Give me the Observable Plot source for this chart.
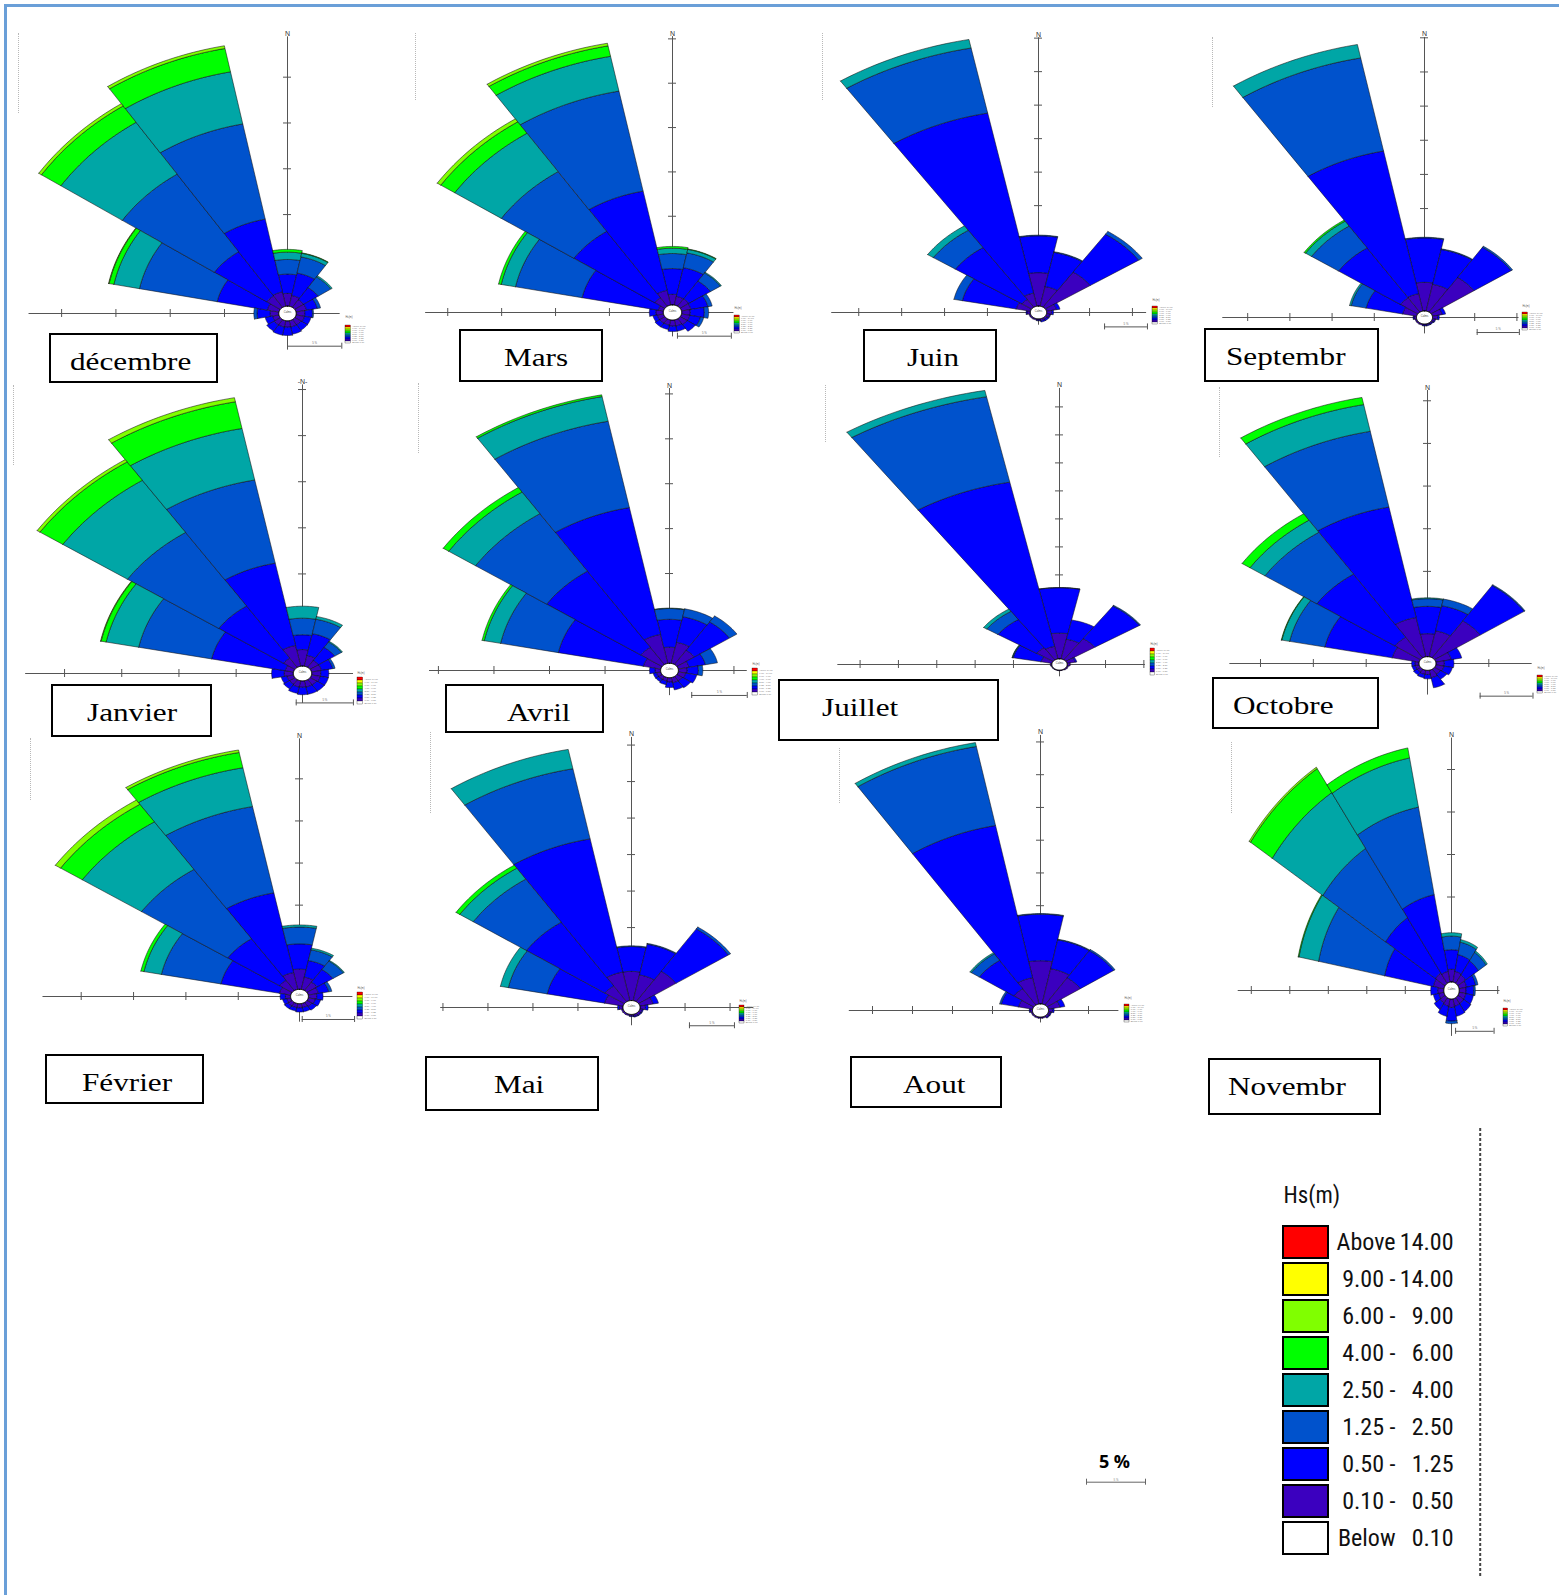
<!DOCTYPE html>
<html><head><meta charset="utf-8">
<script src="https://cdn.jsdelivr.net/npm/d3@7"></script>
<script src="https://cdn.jsdelivr.net/npm/@observablehq/plot@0.6"></script>
<style>
html,body{margin:0;padding:0;background:#fff;overflow:hidden;}
#page{position:relative;width:1559px;height:1595px;overflow:hidden;background:#fff;}
.label{position:absolute;box-sizing:border-box;border:2px solid #000;background:#fff;}
.label span{position:absolute;top:14px;white-space:nowrap;font-family:"Liberation Serif","Times New Roman",serif;font-size:26px;line-height:26px;color:#000;transform:scaleX(1.2);transform-origin:left center;}
.faint{position:absolute;width:0;border-left:1px dotted #b8b8b8;}
</style></head><body><div id="page"></div>
<script>
// ---------- DATA ----------
const directions = ["N","NNE","NE","ENE","E","ESE","SE","SSE","S","SSW","SW","WSW","W","WNW","NW","NNW"];
const hsClasses = ["Above 14.00","9.00 - 14.00","6.00 - 9.00","4.00 - 6.00","2.50 - 4.00","1.25 - 2.50","0.50 - 1.25","0.10 - 0.50","Below 0.10"];
const hsColors  = ["#ff0000","#ffff00","#80ff00","#00ff00","#00a6a6","#0052cc","#0000ff","#3b00bf","#ffffff"];
// classes stacked in each sector, from the centre outward
const stackClasses = ["0.10 - 0.50","0.50 - 1.25","1.25 - 2.50","2.50 - 4.00","4.00 - 6.00","6.00 - 9.00"];
const months = ["décembre","Mars","Juin","Septembr","Janvier","Avril","Juillet","Octobre","Février","Mai","Aout","Novembr"];
const scaleLabel = "5 %";

// frequency (%) per direction (rows N..NNW) and Hs class (columns = stackClasses)
const decembre = [[1.4,2.1,1.6,0.8,0.3],[1.2,2.5,1.8,0.4,0.05],[1.0,1.6,1.4,0.15],[1.0,1.0,0.3],[0.8,0.7,0.1],[0.8,0.6],[0.7,0.7],[0.7,0.8],[0.7,0.9],[0.7,0.9],[0.7,0.8],[0.6,0.7],[0.8,1.2,0.3],[1.1,4.7,7.3,2.4,0.45,0.05],[1.5,5.8,10.2,6.8,2.15,0.3],[1.6,8.1,10.6,5.8,2.6,0.3]];
const mars = [[1.2,2.9,1.7,0.6,0.2],[1.0,3.3,1.7,0.4,0.05],[1.0,2.4,1.1,0.1],[0.9,1.6,0.4],[0.8,1.3,0.4],[0.8,1.0,0.3],[0.8,0.9],[0.7,0.6],[0.7,0.6],[0.6,0.5],[0.6,0.5],[0.6,0.4],[0.7,0.6],[0.5,7.2,6.3,1.35,0.25],[1.15,9.0,8.1,5.2,1.55,0.4],[1.7,11.4,11.5,4.0,1.2,0.3]];
const juin = [[5.0,5.5,0.1],[3.0,5.2,0.1],[6.3,6.8,0.5],[1.2,0.4],[0.6,0.2],[0.4,0.1],[0.3,0.2],[0.3,0.2],[0.2,0.1],[0.2],[0.2],[0.2],[0.4,0.1],[1.7,6.4,1.0],[1.4,9.3,3.1,0.8],[2.0,27.4,9.9,1.3]];
const septembre = [[4.2,6.5,0.1],[4.0,5.2,0.1],[6.1,5.3,0.2],[1.2,0.4],[0.6,0.2],[0.3,0.1],[0.2,0.1],[0.2,0.1],[0.2,0.1],[0.2],[0.2],[0.2],[0.3,0.1],[1.7,4.4,1.8,0.2],[2.5,8.8,3.85,0.85,0.2],[2.6,21.3,13.9,2.0]];
const janvier = [[1.8,1.6,1.8,1.3],[1.2,2.4,1.6,0.3],[0.9,1.7,0.7,0.1],[0.9,1.0,0.2],[0.8,0.7],[0.8,0.7],[0.7,0.8],[0.7,0.8],[0.7,0.8],[0.7,0.7],[0.6,0.6],[0.6,0.5],[0.8,1.1],[0.75,6.55,6.5,2.9,0.45,0.05],[1.2,6.8,9.6,6.8,2.4,0.3],[2.3,9.1,9.2,5.7,2.95,0.45]];
const avril = [[1.8,3.1,1.2,0.05],[2.4,2.9,0.9],[1.9,3.8,0.8],[1.0,1.5,1.1],[0.8,1.0,0.4],[0.7,1.0],[0.6,0.9],[0.6,0.8],[0.5,0.6],[0.4,0.4],[0.4,0.3],[0.4,0.3],[0.5,0.5],[1.6,7.8,5.3,1.5,0.2],[2.3,10.2,7.7,2.9,0.6],[3.3,14.4,9.8,2.8,0.2]];
const juillet = [[4.6,8.1,0.05],[3.6,3.5],[4.55,7.0,0.15],[1.1,0.2],[0.4],[0.2],[0.2],[0.1],[0.1],[0.1],[0.1],[0.1],[0.2],[1.45,3.7,0.1,0.05],[2.6,6.06,1.74,0.5],[2.3,29.9,15.55,1.15]];
const octobre = [[2.7,3.2,0.9,0.1],[3.1,3.0,0.8],[5.2,5.0,0.1],[1.5,1.0],[0.8,0.9],[0.8,0.8],[0.7,0.7],[0.9,1.2],[0.5,0.5],[0.5,0.4],[0.4,0.4],[0.4,0.3],[0.4,0.3],[2.6,6.5,3.4,0.75,0.05],[2.9,8.9,5.9,1.7,0.9],[4.7,13.2,9.05,3.2,0.85]];
const fevrier = [[2.4,3.0,2.0,0.25],[1.5,2.0,1.3,0.2],[1.2,1.8,1.2,0.1],[1.0,1.0,0.3],[0.8,0.6],[0.7,0.5],[0.6,0.5],[0.5,0.5],[0.5,0.5],[0.5,0.4],[0.5,0.4],[0.4,0.4],[0.5,0.5],[1.1,5.7,5.8,1.7,0.3],[1.46,5.94,9.9,6.8,2.5,0.6],[2.05,9.65,10.45,4.7,1.85,0.3]];
const mai = [[4.0,3.4,0.1],[3.6,4.3,0.1],[5.0,7.0,0.3],[1.5,0.6],[0.6,0.3],[0.3,0.1],[0.3,0.1],[0.3,0.1],[0.2,0.1],[0.2],[0.2],[0.2],[0.4,0.2],[2.1,6.5,4.4,0.9],[2.6,10.5,7.1,1.8,0.5],[4.0,18.6,9.8,2.7]];
const aout = [[6.6,7.1,0.1],[5.5,4.5,0.1],[5.0,5.0,0.2],[1.5,0.6],[0.5,0.2],[0.3,0.1],[0.3,0.1],[0.2],[0.2],[0.2],[0.2],[0.2],[0.3,0.1],[1.8,2.2,0.2],[3.0,5.2,1.2,0.2],[4.1,23.7,12.3,0.6]];
const novembre = [[1.5,2.3,1.6,0.4],[1.3,2.0,1.5,0.3],[1.2,2.0,1.2,0.2],[1.0,1.2,0.3],[0.9,1.0,0.2],[0.9,1.0],[0.9,1.1],[0.9,1.2],[1.0,1.6,0.3],[0.9,1.2],[0.8,0.9],[0.7,0.7],[0.8,0.9],[1.4,6.45,8.75,2.6,0.1],[1.5,7.8,9.8,7.9,3.4,0.2],[1.3,9.2,10.5,5.9,1.2]];

const monthData = [decembre, mars, juin, septembre, janvier, avril, juillet, octobre, fevrier, mai, aout, novembre];

// ---------- LAYOUT (page px; a,b = px per % horizontally / vertically) ----------
const layout = [
 {cx:287.3, cy:313.3, a:10.86,b:9.16, r0:0.8, ext:[23.8,4.85,30.2,4.0], bar:[0,-3.57],   leg:[345,316,27,31], box:[49,333,169,50],  tx:70,   faint:[18,33,113],   n:"N"},
 {cx:671.7, cy:312.3, a:10.78,b:8.87, r0:0.85,ext:[22.9,5.7,31.1,2.75], bar:[0.46,-2.67], leg:[734,307,26,29], box:[459,329,144,53], tx:504,  faint:[415,33,100],  n:"N"},
 {cx:1038.3,cy:312.3, a:8.58, b:6.7,  r0:0.95,ext:[24.1,12.6,41.0,1.9], bar:[7.7,-2.15],  leg:[1152,299,27,28],box:[863,329,134,53], tx:907,  faint:[822,33,100],  n:"N"},
 {cx:1424,  cy:316.7, a:8.44, b:6.83, r0:0.95,ext:[23.9,11.2,41.0,2.4], bar:[6.24,-2.2],  leg:[1522,305,27,28],box:[1204,328,175,54],tx:1226, faint:[1212,37,107], n:"N"},
 {cx:302.3, cy:673.3, a:11.44,b:9.22, r0:0.8, ext:[24.2,4.46,31.3,3.25],bar:[-0.55,-3.19],leg:[357,672,28,32], box:[51,684,161,53],  tx:87,   faint:[13,385,465],  n:"-N-"},
 {cx:669.3, cy:670,   a:11.11,b:8.98, r0:0.8, ext:[21.6,7.0,31.4,2.8],  bar:[2.0,-2.78],  leg:[752,663,27,32], box:[445,684,159,49], tx:507,  faint:[418,383,453], n:"N"},
 {cx:1059.3,cy:664.3, a:7.67, b:5.6,  r0:1.0, ext:[28.9,11.2,49.3,2.2], bar:null,        leg:[1150,643,22,32],box:[778,679,221,62], tx:822,  faint:[825,385,442], n:"N"},
 {cx:1426.7,cy:663.3, a:10.57,b:8.53, r0:0.8, ext:[18.7,9.9,32.0,3.7],  bar:[4.98,-3.83], leg:[1537,667,27,30],box:[1212,677,167,52],tx:1233, faint:[1219,387,457],n:"N"},
 {cx:299,   cy:996,   a:10.47,b:8.42, r0:0.85,ext:[24.5,5.1,30.6,3.05], bar:[0.26,-2.73], leg:[357,987,28,33], box:[45,1054,159,50], tx:82,   faint:[30,738,800],  n:"N"},
 {cx:630.5, cy:1006.8,a:9.0,  b:7.3,  r0:0.95,ext:[21.2,13.6,37,2.5],   bar:[6.44,-2.5],  leg:[739,1000,25,25],box:[425,1056,174,55],tx:494,  faint:[430,732,813], n:"N"},
 {cx:1040.3,cy:1009.8,a:8.0,  b:6.55, r0:1.0, ext:[23.9,9.8,42,1.9],    bar:null,        leg:[1124,997,25,27],box:[850,1056,152,52],tx:903,  faint:[839,748,803], n:"N"},
 {cx:1451.2,cy:989.5, a:7.7,  b:8.5,  r0:1.0, ext:[27.7,6.3,29.7,5.4],  bar:[0.53,-4.8],  leg:[1503,1000,23,30],box:[1208,1058,173,57],tx:1228, faint:[1231,742,813], n:"N"}
];

const page = document.getElementById("page");
const colorOf = cls => hsColors[hsClasses.indexOf(cls)];
const legRows = hsClasses.map((c, i) => {
  const parts = c.split(" - ");
  return {cls: c, color: hsColors[i],
    lhs: parts.length === 2 ? parts[0] + " -" : c.split(" ")[0],
    rhs: parts.length === 2 ? parts[1] : c.split(" ")[1]};
});

function place(el, x, y) { el.style.position = "absolute"; el.style.left = x + "px"; el.style.top = y + "px"; page.appendChild(el); }

function sectorPolys(rows, r0) {
  const out = [];
  const rad = d => d * Math.PI / 180;
  rows.forEach((vals, i) => {
    const c = i * 360 / directions.length, half = 180 / directions.length;
    const a0 = c - half, a1 = c + half, N = 24;
    let rIn = r0;
    vals.forEach((v, k) => {
      if (!(v > 0)) return;
      const rOut = rIn + v, id = directions[i] + "-" + k;
      const pts = [];
      for (let t = 0; t <= N; t++) { const th = rad(a0 + (a1 - a0) * t / N); pts.push([rOut * Math.sin(th), rOut * Math.cos(th)]); }
      for (let t = N; t >= 0; t--) { const th = rad(a0 + (a1 - a0) * t / N); pts.push([rIn * Math.sin(th), rIn * Math.cos(th)]); }
      pts.push(pts[0]);
      pts.forEach(p => out.push({x: p[0], y: p[1], id, cls: stackClasses[k]}));
      rIn = rOut;
    });
  });
  return out;
}
function ring(r) {
  return d3.range(0, 361, 5).map(d => ({x: r * Math.sin(d * Math.PI / 180), y: r * Math.cos(d * Math.PI / 180)}));
}

function rosePanel(rows, L) {
  const W = 430, H = 360, left = 300, top = 305;
  const [eL, eR, eT, eB] = L.ext;
  const polys = sectorPolys(rows, L.r0);
  const step = 5;
  const hTicks = [], vTicks = [];
  for (let r = L.r0 + step; r <= eL + 0.01; r += step) hTicks.push(-r);
  for (let r = L.r0 + step; r <= eR + 0.01; r += step) hTicks.push(r);
  for (let r = L.r0 + step; r <= eT + 0.01; r += step) vTicks.push(r);
  for (let r = L.r0 + step; r <= eB + 0.01; r += step) vTicks.push(-r);
  const tx = 4 / L.a, ty = 4 / L.b;
  const marks = [
    Plot.ruleY([0], {x1: -eL, x2: eR, stroke: "#555", strokeWidth: 1}),
    Plot.ruleX([0], {y1: -eB, y2: eT, stroke: "#555", strokeWidth: 1}),
    Plot.ruleX(hTicks, {x: d => d, y1: -ty, y2: ty, stroke: "#555", strokeWidth: 1}),
    Plot.ruleY(vTicks, {y: d => d, x1: -tx, x2: tx, stroke: "#555", strokeWidth: 1}),
    ...stackClasses.map(cls => Plot.line(polys.filter(d => d.cls === cls),
        {x: "x", y: "y", z: "id", fill: colorOf(cls), stroke: "#111", strokeWidth: 0.55, strokeLinejoin: "round"})),
    Plot.line(ring(L.r0), {x: "x", y: "y", fill: "#fff", stroke: "#000", strokeWidth: 1}),
    Plot.text(["Calms"], {x: 0, y: 0, dy: -1.5, fontSize: 2.6, fill: "#444"}),
    Plot.text([L.n], {x: 0, y: eT, dy: -1, lineAnchor: "bottom", fontSize: 7, fill: "#333"})
  ];
  if (L.bar) {
    const [x0, yb] = L.bar;
    marks.push(
      Plot.ruleY([yb], {x1: x0, x2: x0 + step, stroke: "#555", strokeWidth: 1}),
      Plot.ruleX([x0, x0 + step], {x: d => d, y1: yb - 3 / L.b, y2: yb + 3 / L.b, stroke: "#555"}),
      Plot.text([scaleLabel], {x: x0 + step / 2, y: yb, dy: -3, fontSize: 2.8, fill: "#666"})
    );
  }
  const svg = Plot.plot({
    width: W, height: H, margin: 0,
    x: {domain: [-left / L.a, (W - left) / L.a], range: [0, W], axis: null},
    y: {domain: [-(H - top) / L.b, top / L.b], range: [H, 0], axis: null},
    style: {background: "transparent", overflow: "visible", fontFamily: "Liberation Sans, Arial, sans-serif"},
    marks
  });
  place(svg, L.cx - left, L.cy - top);
}

function miniLegend(lg) {
  const [x, y, w, h] = lg;
  const svg = Plot.plot({
    width: w, height: h, margin: 0,
    x: {domain: [0, 1], range: [0, w], axis: null},
    y: {type: "band", domain: hsClasses, range: [h * 0.14, h], padding: 0.12, axis: null},
    color: {type: "identity"},
    style: {background: "transparent", overflow: "visible", fontFamily: "Liberation Sans, Arial, sans-serif"},
    marks: [
      Plot.text(["Hs(m)"], {frameAnchor: "top-left", lineAnchor: "top", fontSize: 2.6, fill: "#555"}),
      Plot.barX(legRows, {x1: 0, x2: 0.2, y: "cls", fill: "color", stroke: "#000", strokeWidth: 0.3}),
      Plot.text(legRows, {x: 0.25, y: "cls", text: "cls", textAnchor: "start", fontSize: 2.4, fill: "#777"})
    ]
  });
  place(svg, x, y);
}

// frame lines
const topLine = document.createElement("div");
topLine.style.cssText = "position:absolute;left:4px;top:4px;width:1560px;height:2.5px;background:#6a9fd8;";
page.appendChild(topLine);
const leftLine = document.createElement("div");
leftLine.style.cssText = "position:absolute;left:4px;top:4px;width:2.5px;height:1600px;background:#6a9fd8;";
page.appendChild(leftLine);

layout.forEach((L, i) => {
  const f = document.createElement("div");
  f.className = "faint";
  f.style.left = L.faint[0] + "px"; f.style.top = L.faint[1] + "px"; f.style.height = (L.faint[2] - L.faint[1]) + "px";
  page.appendChild(f);
  rosePanel(monthData[i], L);
  miniLegend(L.leg);
});
layout.forEach((L, i) => {
  const [bx, by, bw, bh] = L.box;
  const d = document.createElement("div");
  d.className = "label";
  d.style.left = bx + "px"; d.style.top = by + "px"; d.style.width = bw + "px"; d.style.height = bh + "px";
  const s = document.createElement("span");
  s.textContent = months[i];
  s.style.left = (L.tx - bx - 2) + "px";
  d.appendChild(s);
  page.appendChild(d);
});

// big legend
const narrow = "Liberation Sans Narrow, Arial Narrow, Roboto Condensed, Liberation Sans, sans-serif";
const bigLegend = Plot.plot({
  width: 240, height: 450, margin: 0,
  x: {domain: [0, 240], range: [0, 240], axis: null},
  y: {type: "band", domain: hsClasses, range: [97, 427], paddingInner: 0.13, paddingOuter: 0, axis: null},
  color: {type: "identity"},
  style: {background: "transparent", overflow: "visible", fontFamily: narrow},
  marks: [
    Plot.ruleX([229.7], {stroke: "#444", strokeWidth: 2, strokeDasharray: "3,2"}),
    Plot.text(["Hs(m)"], {frameAnchor: "top-left", dx: 33, dy: 58, lineAnchor: "top", textAnchor: "start", fontSize: 23, fill: "#111"}),
    Plot.barX(legRows, {x1: 33, x2: 78, y: "cls", fill: "color", stroke: "#000", strokeWidth: 2}),
    Plot.text(legRows, {x: 145, y: "cls", text: "lhs", textAnchor: "end", fontSize: 24, fill: "#111"}),
    Plot.text(legRows, {x: 203, y: "cls", text: "rhs", textAnchor: "end", fontSize: 24, fill: "#111"})
  ]
});
place(bigLegend, 1250, 1128);

// standalone scale indicator
const scaleBox = Plot.plot({
  width: 100, height: 80, margin: 0,
  x: {domain: [0, 100], range: [0, 100], axis: null},
  y: {domain: [0, 80], range: [0, 80], axis: null},
  style: {background: "transparent", overflow: "visible", fontFamily: "Open Sans, Liberation Sans, sans-serif"},
  marks: [
    Plot.text([scaleLabel], {x: 54, y: 47, lineAnchor: "bottom", fontSize: 18, fontWeight: "bold", fill: "#000"}),
    Plot.ruleY([61.7], {x1: 26, x2: 85, stroke: "#666", strokeWidth: 1}),
    Plot.ruleX([26, 85], {x: d => d, y1: 58.7, y2: 64.7, stroke: "#666"}),
    Plot.text([scaleLabel], {x: 55.5, y: 60, fontSize: 3, fill: "#777"})
  ]
});
place(scaleBox, 1060, 1420);
</script></body></html>
